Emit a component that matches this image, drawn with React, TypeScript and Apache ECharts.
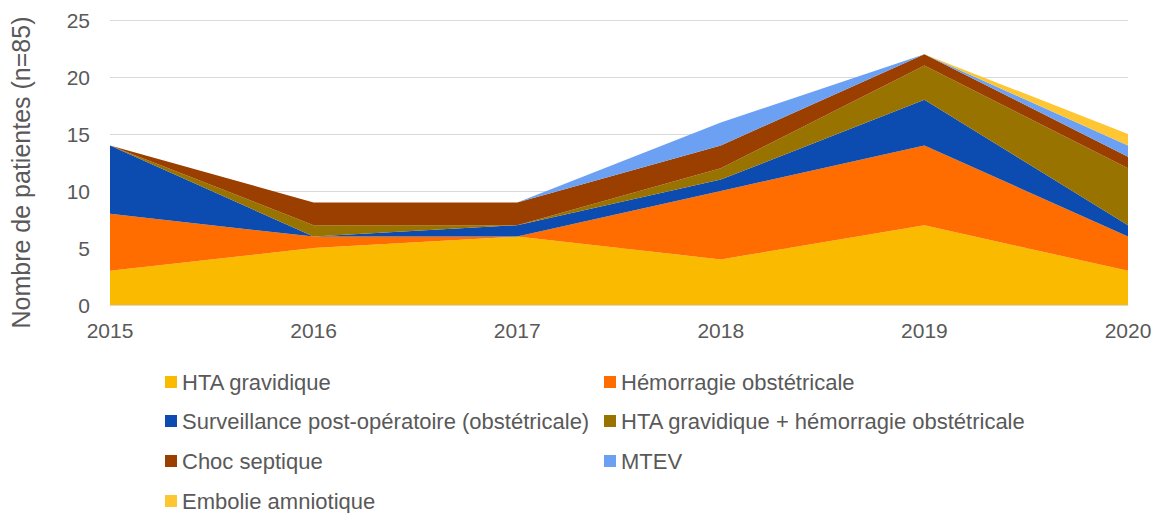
import React, { useEffect, useRef } from "react";
import * as echarts from "echarts";

const years = ["2015", "2016", "2017", "2018", "2019", "2020"];
const htaGravidique = [3, 5, 6, 4, 7, 3];
const hemorragie = [5, 1, 0, 6, 7, 3];
const surveillance = [6, 0, 1, 1, 4, 1];
const htaHemo = [0, 1, 0, 1, 3, 5];
const chocSeptique = [0, 2, 2, 2, 1, 1];
const mtev = [0, 0, 0, 2, 0, 1];
const embolie = [0, 0, 0, 0, 0, 1];

const seriesDefs = [
  { name: "HTA gravidique", data: htaGravidique, color: "#FABA00" },
  { name: "Hémorragie obstétricale", data: hemorragie, color: "#FF6D00" },
  { name: "Surveillance post-opératoire (obstétricale)", data: surveillance, color: "#0C4BAF" },
  { name: "HTA gravidique + hémorragie obstétricale", data: htaHemo, color: "#997300" },
  { name: "Choc septique", data: chocSeptique, color: "#9A3F00" },
  { name: "MTEV", data: mtev, color: "#6CA0F3" },
  { name: "Embolie amniotique", data: embolie, color: "#FFC634" },
];

// legend cell placement: [column, row]
const legendCells: [number, number][] = [
  [0, 0],
  [1, 0],
  [0, 1],
  [1, 1],
  [0, 2],
  [1, 2],
  [0, 3],
];
const legendColX = [165, 604];
const legendRowY = [382, 421, 461, 501];

const FONT = "'Liberation Sans', Arial, sans-serif";
const TXT = "#595959";

export default function App() {
  const ref = useRef<HTMLDivElement>(null);
  useEffect(() => {
    if (!ref.current) return;
    const chart = echarts.init(ref.current, undefined, { renderer: "svg" });
    const legends = seriesDefs.map((s, i) => ({
      orient: "horizontal" as const,
      icon: "rect",
      itemWidth: 12,
      itemHeight: 12,
      padding: 0,
      left: legendColX[legendCells[i][0]],
      top: legendRowY[legendCells[i][1]] - 11,
      data: [s.name],
      textStyle: { color: TXT, fontSize: 22, fontFamily: FONT, lineHeight: 22 },
    }));
    chart.setOption({
      animation: false,
      textStyle: { fontFamily: FONT },
      grid: { left: 103, right: 33, top: 20, bottom: 208, containLabel: false },
      legend: legends,
      xAxis: {
        type: "category",
        data: years,
        boundaryGap: false,
        axisLine: { lineStyle: { color: "#D9D9D9", width: 1 } },
        axisTick: { show: false },
        axisLabel: { color: TXT, fontSize: 21, fontFamily: FONT, margin: 15 },
      },
      yAxis: {
        type: "value",
        min: 0,
        max: 25,
        interval: 5,
        name: "Nombre de patientes (n=85)",
        nameLocation: "middle",
        nameGap: 77,
        nameTextStyle: { color: TXT, fontSize: 25, fontFamily: FONT, padding: [0, 20, 0, 0] },
        axisLine: { show: false },
        axisTick: { show: false },
        axisLabel: { color: TXT, fontSize: 21, fontFamily: FONT, margin: 20 },
        splitLine: { lineStyle: { color: "#D9D9D9", width: 1 } },
      },
      series: seriesDefs.map((s) => ({
        name: s.name,
        type: "line",
        stack: "total",
        data: s.data,
        symbol: "none",
        lineStyle: { width: 0 },
        areaStyle: { color: s.color, opacity: 1 },
        itemStyle: { color: s.color },
      })),
    });
    return () => chart.dispose();
  }, []);
  return (
    <div
      ref={ref}
      style={{ position: "absolute", left: 0, top: 0, width: 1161, height: 513 }}
    />
  );
}
